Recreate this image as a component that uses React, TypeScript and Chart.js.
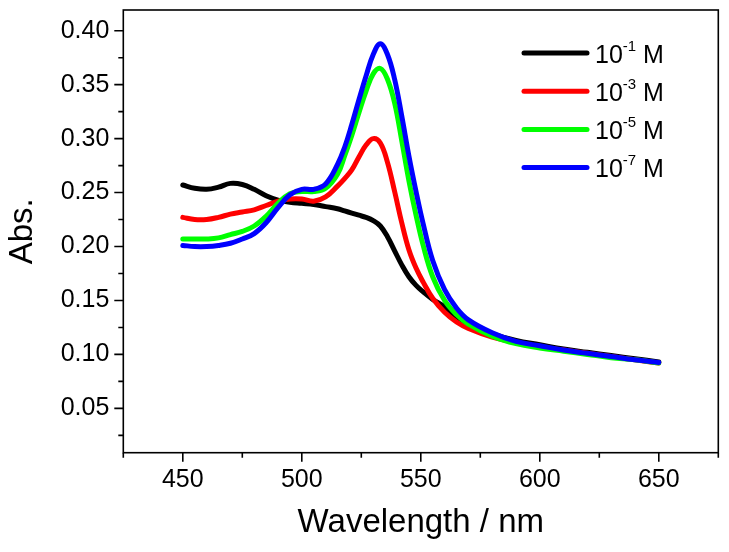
import React, { useEffect, useRef } from "react";
import { Chart, registerables } from "chart.js";

Chart.register(...registerables);

const wavelengths = [450, 455, 460, 465, 470, 475, 480, 485, 490, 495, 500, 505, 510, 515, 518, 521, 524, 527, 530, 533, 536, 539, 542, 545, 548, 551, 555, 560, 565, 570, 580, 590, 600, 610, 620, 630, 640, 650];

const abs1 = [0.257, 0.254, 0.253, 0.255, 0.2585, 0.2575, 0.253, 0.247, 0.243, 0.241, 0.240, 0.239, 0.237, 0.235, 0.233, 0.231, 0.229, 0.227, 0.224, 0.219, 0.209, 0.196, 0.183, 0.172, 0.164, 0.158, 0.151, 0.144, 0.135, 0.128, 0.119, 0.113, 0.109, 0.105, 0.102, 0.099, 0.096, 0.093];
const abs3 = [0.227, 0.225, 0.225, 0.227, 0.230, 0.232, 0.234, 0.238, 0.242, 0.244, 0.244, 0.242, 0.246, 0.256, 0.263, 0.271, 0.283, 0.294, 0.300, 0.296, 0.278, 0.251, 0.222, 0.197, 0.180, 0.167, 0.152, 0.139, 0.130, 0.124, 0.116, 0.111, 0.107, 0.104, 0.101, 0.098, 0.095, 0.092];
const abs5 = [0.207, 0.207, 0.207, 0.208, 0.211, 0.214, 0.219, 0.228, 0.240, 0.249, 0.251, 0.251, 0.254, 0.267, 0.284, 0.303, 0.324, 0.344, 0.360, 0.365, 0.355, 0.333, 0.298, 0.261, 0.229, 0.201, 0.172, 0.150, 0.137, 0.128, 0.117, 0.110, 0.106, 0.103, 0.100, 0.097, 0.095, 0.092];
const abs7 = [0.201, 0.200, 0.200, 0.201, 0.203, 0.207, 0.212, 0.222, 0.236, 0.248, 0.253, 0.253, 0.258, 0.276, 0.292, 0.313, 0.336, 0.358, 0.378, 0.388, 0.378, 0.355, 0.321, 0.284, 0.251, 0.221, 0.187, 0.160, 0.143, 0.132, 0.120, 0.112, 0.108, 0.104, 0.101, 0.098, 0.095, 0.0925];

const seriesBase = ["10", "10", "10", "10"];
const seriesExp = ["-1", "-3", "-5", "-7"];
const seriesUnit = " M";
const seriesColors = ["#000000", "#ff0000", "#00ff00", "#0000ff"];

const xMajorTicks = [450, 500, 550, 600, 650];
const xMinorTicks = [425, 475, 525, 575, 625, 675];
const yMajorTicks = [0.05, 0.1, 0.15, 0.2, 0.25, 0.3, 0.35, 0.4];
const yMinorTicks = [0.025, 0.075, 0.125, 0.175, 0.225, 0.275, 0.325, 0.375];

const xTitle = "Wavelength / nm";
const yTitle = "Abs.";

const FONT = "'Liberation Sans', Arial, sans-serif";

const framePlugin = {
  id: "frameAndLegend",
  afterDraw(chart: any) {
    const ctx = chart.ctx;
    const { left, right, top, bottom } = chart.chartArea;
    const xs = chart.scales.x;
    const ys = chart.scales.y;
    ctx.save();
    ctx.strokeStyle = "#000";
    ctx.lineWidth = 1.6;
    ctx.strokeRect(left, top, right - left, bottom - top);
    ctx.beginPath();
    xMajorTicks.forEach((v) => {
      const p = xs.getPixelForValue(v);
      ctx.moveTo(p, bottom);
      ctx.lineTo(p, bottom + 9);
    });
    xMinorTicks.forEach((v) => {
      const p = xs.getPixelForValue(v);
      ctx.moveTo(p, bottom);
      ctx.lineTo(p, bottom + 5);
    });
    yMajorTicks.forEach((v) => {
      const p = ys.getPixelForValue(v);
      ctx.moveTo(left, p);
      ctx.lineTo(left - 9, p);
    });
    yMinorTicks.forEach((v) => {
      const p = ys.getPixelForValue(v);
      ctx.moveTo(left, p);
      ctx.lineTo(left - 5, p);
    });
    ctx.stroke();

    // legend
    const lx0 = 524;
    const lx1 = 587;
    const ly0 = 53;
    const dy = 38.2;
    ctx.lineCap = "round";
    ctx.textBaseline = "alphabetic";
    ctx.textAlign = "left";
    seriesBase.forEach((b, i) => {
      const y = ly0 + i * dy;
      ctx.strokeStyle = seriesColors[i];
      ctx.lineWidth = 5;
      ctx.beginPath();
      ctx.moveTo(lx0, y);
      ctx.lineTo(lx1, y);
      ctx.stroke();
      ctx.fillStyle = "#000";
      const base = y + 9.5;
      let x = 595;
      ctx.font = `25px ${FONT}`;
      ctx.fillText(b, x, base);
      x += ctx.measureText(b).width;
      ctx.font = `15px ${FONT}`;
      ctx.fillText(seriesExp[i], x, base - 12);
      x += ctx.measureText(seriesExp[i]).width;
      ctx.font = `25px ${FONT}`;
      ctx.fillText(seriesUnit, x, base);
    });
    ctx.restore();
  },
};

export default function App() {
  const canvasRef = useRef<HTMLCanvasElement>(null);

  useEffect(() => {
    const canvas = canvasRef.current;
    if (!canvas) return;
    const mk = (data: number[], i: number, order: number) => ({
      label: seriesBase[i] + seriesExp[i] + seriesUnit,
      data: wavelengths.map((w, k) => ({ x: w, y: data[k] })),
      borderColor: seriesColors[i],
      backgroundColor: seriesColors[i],
      borderWidth: 5,
      pointRadius: 0,
      tension: 0.4,
      borderCapStyle: "round" as const,
      borderJoinStyle: "round" as const,
      fill: false,
      order,
    });
    const chart = new Chart(canvas, {
      type: "line",
      data: {
        datasets: [mk(abs1, 0, 4), mk(abs3, 1, 3), mk(abs5, 2, 2), mk(abs7, 3, 1)],
      },
      plugins: [framePlugin],
      options: {
        animation: false,
        responsive: false,
        maintainAspectRatio: false,
        layout: { padding: { left: 0, top: 10, right: 10.7, bottom: 0 } },
        plugins: { legend: { display: false }, tooltip: { enabled: false } },
        scales: {
          x: {
            type: "linear",
            min: 425,
            max: 675,
            afterFit: (s: any) => {
              s.height = 99.3;
              s.paddingLeft = 0;
              s.paddingRight = 0;
              s.paddingTop = 0;
              s.paddingBottom = 0;
            },
            afterBuildTicks: (s: any) => {
              s.ticks = xMajorTicks.map((v) => ({ value: v }));
            },
            grid: { display: false, drawTicks: false },
            border: { display: false },
            ticks: {
              color: "#000",
              padding: 12,
              maxRotation: 0,
              autoSkip: false,
              font: { family: FONT, size: 25 },
              callback: (v: any) => String(v),
            },
            title: {
              display: true,
              text: xTitle,
              color: "#000",
              font: { family: FONT, size: 33 },
              padding: { top: 0, bottom: 9 },
            },
          },
          y: {
            type: "linear",
            min: 0.0089,
            max: 0.4192,
            afterFit: (s: any) => {
              s.width = 123.3;
              s.paddingLeft = 0;
              s.paddingRight = 0;
              s.paddingTop = 0;
              s.paddingBottom = 0;
            },
            afterBuildTicks: (s: any) => {
              s.ticks = yMajorTicks.map((v) => ({ value: v }));
            },
            grid: { display: false, drawTicks: false },
            border: { display: false },
            ticks: {
              color: "#000",
              padding: 14,
              autoSkip: false,
              font: { family: FONT, size: 25 },
              callback: (v: any) => Number(v).toFixed(2),
            },
            title: {
              display: true,
              text: yTitle,
              color: "#000",
              font: { family: FONT, size: 33 },
              padding: { top: 3, bottom: 0 },
            },
          },
        },
      },
    });
    return () => chart.destroy();
  }, []);

  return (
    <div style={{ position: "absolute", left: 0, top: 0, width: 729, height: 552, background: "#fff" }}>
      <canvas ref={canvasRef} width={729} height={552} style={{ display: "block", width: 729, height: 552 }} />
    </div>
  );
}
